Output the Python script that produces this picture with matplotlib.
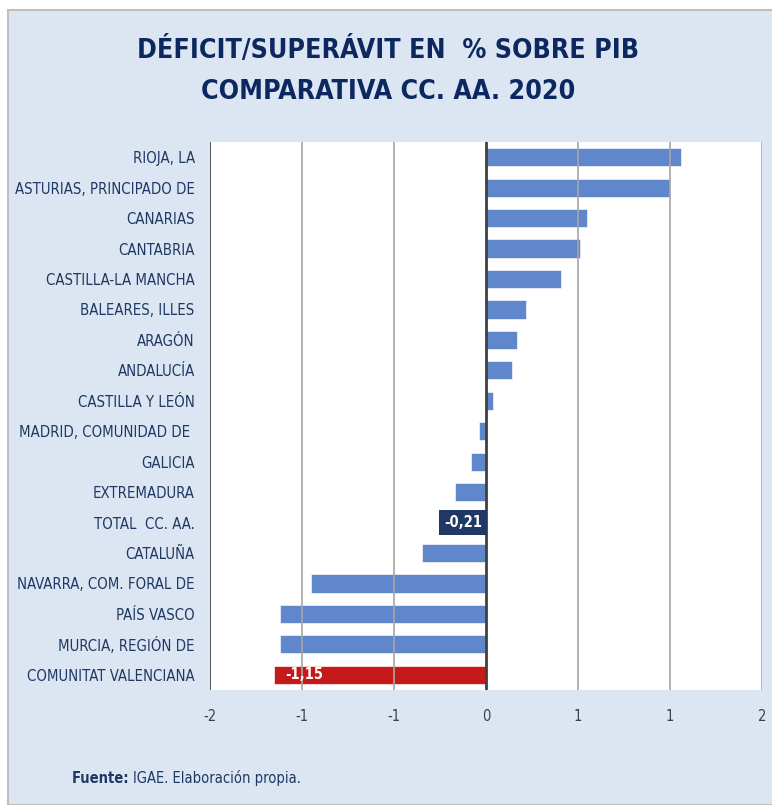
import matplotlib.pyplot as plt
import matplotlib.patches as mpatches
import numpy as np

# Datos: déficit/superávit en % del PIB por comunidad autónoma, 2020
regions = ['RIOJA, LA', 'ASTURIAS, PRINCIPADO DE', 'CANARIAS', 'CANTABRIA',
           'CASTILLA-LA MANCHA', 'BALEARES, ILLES', 'ARAGÓN', 'ANDALUCÍA',
           'CASTILLA Y LEÓN', 'MADRID, COMUNIDAD DE ', 'GALICIA', 'EXTREMADURA',
           'TOTAL  CC. AA.', 'CATALUÑA', 'NAVARRA, COM. FORAL DE', 'PAÍS VASCO',
           'MURCIA, REGIÓN DE', 'COMUNITAT VALENCIANA']
values = [1.06, 1.00, 0.55, 0.51, 0.41, 0.22, 0.17, 0.14, 0.04, -0.04,
          -0.08, -0.17, -0.21, -0.35, -0.95, -1.12, -1.12, -1.15]
xticks = [-1.5, -1.0, -0.5, 0.0, 0.5, 1.0, 1.5]
xtick_labels = ['-2', '-1', '-1', '0', '1', '1', '2']

bg = '#DCE6F2'
navy = '#1F3864'
title_navy = '#0D2860'
blue = '#4472C4'
red = '#C00000'

plt.rcParams['font.family'] = ['DejaVu Sans']
plt.rcParams['font.stretch'] = 'condensed'

fig = plt.figure(figsize=(7.72, 8.05), dpi=100, facecolor='white')
# fondo azul claro con borde gris
fig.patches.append(mpatches.Rectangle((8 / 772, 0), 1, 1 - 10 / 805,
                                      transform=fig.transFigure,
                                      facecolor=bg, edgecolor='#BFBFBF',
                                      linewidth=1.5, zorder=-10))

ax = fig.add_axes([210 / 772, 1 - 690 / 805, (762 - 210) / 772, (690 - 142) / 805])
ax.set_facecolor('white')

y = np.arange(len(regions))
colors = [blue] * len(regions)
colors[regions.index('TOTAL  CC. AA.')] = navy
colors[-1] = red

for yi, v, c in zip(y, values, colors):
    ax.barh(yi, v, height=0.6, color=c, alpha=0.85 if c == blue else 0.9,
            edgecolor='white', linewidth=0.5, zorder=3)

ax.set_xlim(-1.5, 1.5)
ax.set_ylim(len(regions) - 0.5, -0.5)
ax.set_xticks(xticks)
ax.set_xticklabels(xtick_labels, fontsize=10.5, color='#404040')
ax.set_yticks(y)
ax.set_yticklabels(regions, fontsize=10.7, color=navy)
ax.tick_params(axis='x', length=0, pad=14)
ax.tick_params(axis='y', length=0, pad=11)

for xt in xticks:
    if xt == 0:
        continue
    ax.axvline(xt, color='#A6A6A6', linewidth=1.2, zorder=4)
ax.axvline(0, color='#404040', linewidth=2, zorder=5)
ax.axvline(-1.5, color='#404040', linewidth=1.2, zorder=5)

for s in ax.spines.values():
    s.set_visible(False)

# etiquetas de datos
i_tot = regions.index('TOTAL  CC. AA.')
ax.text(values[i_tot] / 2 - 0.02, i_tot, '-0,21', ha='center', va='center',
        fontsize=10.5, fontweight='bold', color='white', zorder=6,
        bbox=dict(boxstyle='square,pad=0.35', facecolor=navy, edgecolor='none'))
ax.text(values[-1] + 0.06, len(regions) - 1, '-1,15', ha='left', va='center',
        fontsize=10.5, fontweight='bold', color='white', zorder=6)

fig.text(388 / 772, 1 - 50 / 805, 'DÉFICIT/SUPERÁVIT EN  % SOBRE PIB',
         ha='center', va='center', fontsize=19.2, fontweight='bold', color=title_navy)
fig.text(388 / 772, 1 - 92 / 805, 'COMPARATIVA CC. AA. 2020',
         ha='center', va='center', fontsize=19.2, fontweight='bold', color=title_navy)

t1 = fig.text(72 / 772, 1 - 778 / 805, 'Fuente: ', ha='left', va='center',
              fontsize=10.5, fontweight='bold', color=navy)
fig.canvas.draw()
bb = t1.get_window_extent()
fig.text(bb.x1 / fig.bbox.width, 1 - 778 / 805, 'IGAE. Elaboración propia.',
         ha='left', va='center', fontsize=10.5, color=navy)

fig.savefig('out.png', dpi=100, facecolor=fig.get_facecolor())
